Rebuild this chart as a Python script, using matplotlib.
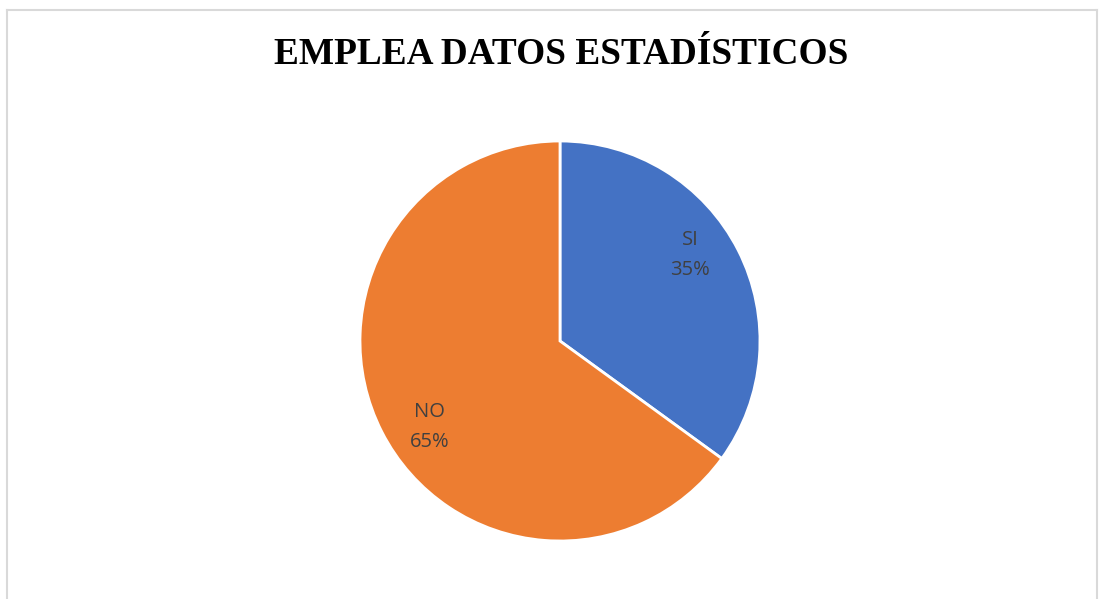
import numpy as np
import matplotlib.pyplot as plt
from matplotlib.lines import Line2D

categorias = ["SI", "NO"]
porcentajes = [35, 65]
colores = ["#4472C4", "#ED7D31"]

fig = plt.figure(figsize=(11, 5.99), dpi=100)

# marco gris del grafico
fig.add_artist(Line2D([7 / 1100, 7 / 1100], [0, 1 - 10 / 599], color="#d9d9d9", lw=1.5))
fig.add_artist(Line2D([7 / 1100, 1097 / 1100], [1 - 10 / 599, 1 - 10 / 599], color="#d9d9d9", lw=1.5))
fig.add_artist(Line2D([1097 / 1100, 1097 / 1100], [0, 1 - 10 / 599], color="#d9d9d9", lw=1.5))

fig.text(561 / 1100, 1 - 55 / 599, "EMPLEA DATOS ESTADÍSTICOS", ha="center", va="center",
         fontsize=26.8, fontweight="bold", family="Liberation Serif")

ax = fig.add_axes([360 / 1100, 58 / 599, 400 / 1100, 400 / 599])
etiquetas = [f"{c}\n{p}%" for c, p in zip(categorias, porcentajes)]
wedges, textos = ax.pie(porcentajes, labels=etiquetas, colors=colores, startangle=90,
                        counterclock=False, labeldistance=0.78,
                        wedgeprops=dict(edgecolor="white", linewidth=2),
                        textprops=dict(color="#404040", fontsize=14.5, family="Open Sans",
                                       ha="center", va="center", linespacing=1.65))
# desplazar un poco las etiquetas como en Excel
for w, t in zip(wedges, textos):
    ang = np.deg2rad((w.theta1 + w.theta2) / 2 + 6.5)
    t.set_position((0.78 * np.cos(ang), 0.78 * np.sin(ang)))

ax.set_xlim(-1, 1)
ax.set_ylim(-1, 1)
ax.set_aspect("equal")

fig.savefig("out.png", dpi=100)
